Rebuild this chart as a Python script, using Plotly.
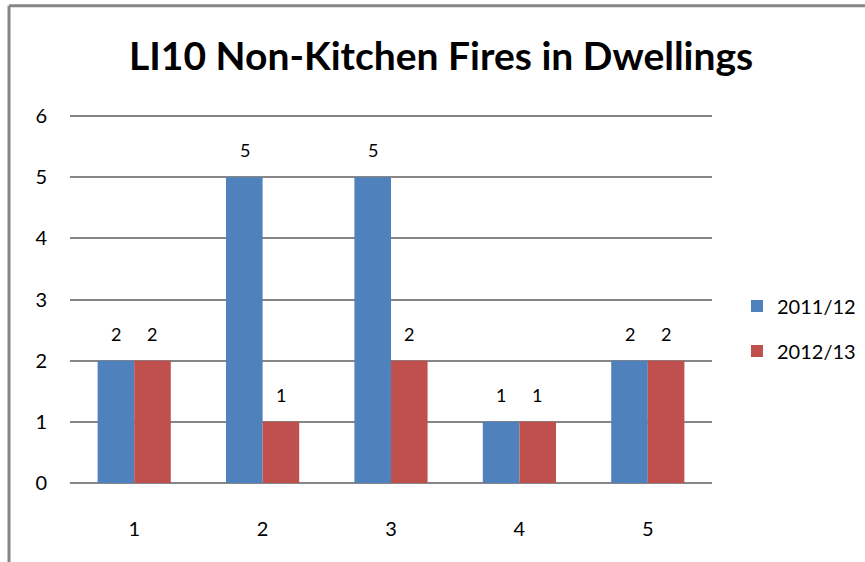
import plotly.graph_objects as go

categories = ["1", "2", "3", "4", "5"]
fires_2011_12 = [2, 5, 5, 1, 2]
fires_2012_13 = [2, 1, 2, 1, 2]
series_names = ["2011/12", "2012/13"]
y_ticks = [0, 1, 2, 3, 4, 5, 6]

BLUE = "#4F81BD"
RED = "#C0504D"
GREY = "#868686"
FONT = "Lato"

fig = go.Figure()
labels = []
for i, (name, vals, col) in enumerate([(series_names[0], fires_2011_12, BLUE),
                                       (series_names[1], fires_2012_13, RED)]):
    fig.add_trace(go.Bar(
        x=categories, y=vals, name=name, legendgroup=name,
        marker=dict(color=col, line=dict(width=0)),
    ))
    # value labels sit a bit higher above the bars than plotly's default
    # (annotations on a category axis take the category index)
    for j, v in enumerate(vals):
        labels.append(dict(x=j, y=v, text=str(v), showarrow=False,
                           xshift=-18 if i == 0 else 18, yshift=27,
                           font=dict(size=18, color="#000000")))

fig.update_layout(
    width=865, height=562,
    margin=dict(l=70, r=153, t=113, b=79, autoexpand=False),
    paper_bgcolor="#FFFFFF", plot_bgcolor="#FFFFFF",
    barmode="group", bargap=0.43, bargroupgap=0,
    title=dict(text="<b>LI10 Non-Kitchen Fires in Dwellings</b>",
               x=0.51, xanchor="center", y=0.9, yanchor="middle",
               font=dict(family=FONT, size=39, color="#000000")),
    font=dict(family=FONT, size=18, color="#000000"),
    annotations=labels,
    legend=dict(xref="container", yref="container",
                x=0.852, y=0.49, xanchor="left", yanchor="top",
                font=dict(size=20), itemwidth=30, tracegroupgap=16,
                traceorder="grouped", bgcolor="rgba(0,0,0,0)"),
    xaxis=dict(type="category", showgrid=False, showline=False, ticks="",
               automargin=False, ticklabelstandoff=32,
               tickfont=dict(size=20)),
    yaxis=dict(range=[0, 6.05], tickvals=y_ticks, showgrid=True,
               gridcolor=GREY, gridwidth=1.5, zeroline=True,
               zerolinecolor=GREY, zerolinewidth=1.5, showline=False,
               automargin=False,
               ticks="", ticklabelstandoff=22, tickfont=dict(size=20)),
    shapes=[
        dict(type="line", xref="paper", yref="paper",
             x0=-0.095, x1=1.4, y0=1.29, y1=1.29,
             line=dict(color=GREY, width=3)),
        dict(type="line", xref="paper", yref="paper",
             x0=-0.095, x1=-0.095, y0=-0.5, y1=1.29,
             line=dict(color=GREY, width=3)),
    ],
)

# drop the browser's default body margin so the figure fills the window
fig.write_html("out.html", config={"displayModeBar": False},
               post_script="document.body.style.margin='0';")
